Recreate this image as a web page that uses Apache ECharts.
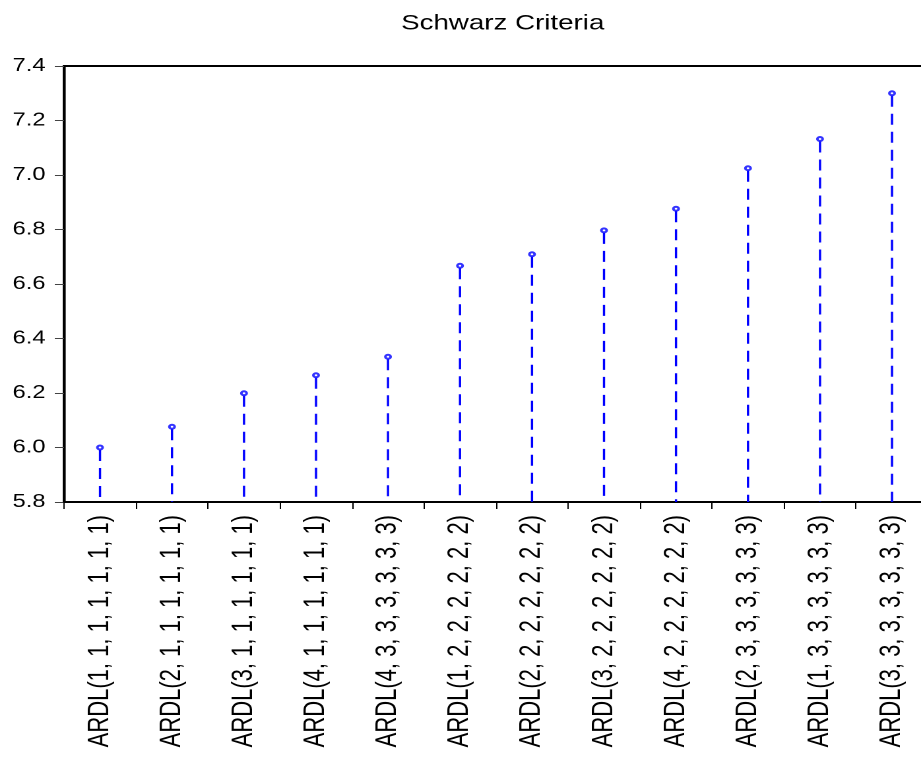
<!DOCTYPE html>
<html>
<head>
<meta charset="utf-8">
<script src="https://cdn.jsdelivr.net/npm/echarts@6/dist/echarts.min.js"></script>
<style>
  html, body { margin: 0; padding: 0; background: #fff; overflow: hidden; }
  #wrap { width: 921px; height: 760px; overflow: hidden; }
  /* 原图横向拉伸约 1.32 倍，这里按同样比例拉伸 */
  #chart { width: 698px; height: 760px; transform: scaleX(1.3195); transform-origin: 0 0; }
</style>
</head>
<body>
<div id="wrap"><div id="chart"></div></div>
<script>
// 模型名称
const models = [
  'ARDL(1, 1, 1, 1, 1, 1, 1)',
  'ARDL(2, 1, 1, 1, 1, 1, 1)',
  'ARDL(3, 1, 1, 1, 1, 1, 1)',
  'ARDL(4, 1, 1, 1, 1, 1, 1)',
  'ARDL(4, 3, 3, 3, 3, 3, 3)',
  'ARDL(1, 2, 2, 2, 2, 2, 2)',
  'ARDL(2, 2, 2, 2, 2, 2, 2)',
  'ARDL(3, 2, 2, 2, 2, 2, 2)',
  'ARDL(4, 2, 2, 2, 2, 2, 2)',
  'ARDL(2, 3, 3, 3, 3, 3, 3)',
  'ARDL(1, 3, 3, 3, 3, 3, 3)',
  'ARDL(3, 3, 3, 3, 3, 3, 3)'
]

// Schwarz 值
const schwarz = [6.000, 6.076, 6.199, 6.265, 6.333, 6.667, 6.709, 6.797, 6.876, 7.025, 7.132, 7.300]

const yMin = 5.8
const yMax = 7.4
const yStep = 0.2

const chart = echarts.init(document.getElementById('chart'), null, { devicePixelRatio: 2 })

const option = {
  animation: false,
  title: {
    text: 'Schwarz Criteria',
    left: 376,
    top: 8,
    textAlign: 'center',
    textStyle: {
      fontFamily: 'Liberation Sans',
      fontSize: 21,
      fontWeight: 'normal',
      color: '#000'
    }
  },
  grid: {
    left: 48.5,
    top: 66,
    bottom: 258,
    width: 654.8,
    show: true,
    borderColor: '#000',
    borderWidth: 2,
    containLabel: false,
    outerBoundsMode: 'none'
  },
  xAxis: {
    type: 'category',
    data: models,
    axisLine: { lineStyle: { color: '#000', width: 2 } },
    axisTick: { show: true, length: 7, inside: false, lineStyle: { color: '#000', width: 1 } },
    axisLabel: {
      rotate: 90,
      margin: 13,
      interval: 0,
      fontFamily: 'Liberation Sans',
      fontSize: 22,
      color: '#000'
    },
    splitLine: { show: false }
  },
  yAxis: {
    type: 'value',
    min: yMin,
    max: yMax,
    interval: yStep,
    axisLine: { show: true, lineStyle: { color: '#000', width: 1.6 } },
    axisTick: { show: true, length: 7, lineStyle: { color: '#444', width: 1 } },
    axisLabel: {
      margin: 14,
      fontFamily: 'Liberation Sans',
      fontSize: 18,
      color: '#000',
      formatter: v => v.toFixed(1)
    },
    splitLine: { show: false }
  },
  series: [
    {
      // 虚线针
      type: 'custom',
      data: schwarz.map((v, i) => [i, v]),
      renderItem: (params, api) => {
        const top = api.coord([api.value(0), api.value(1)])
        const base = api.coord([api.value(0), yMin])
        return {
          type: 'line',
          shape: { x1: top[0], y1: top[1] + 2.5, x2: base[0], y2: base[1] },
          style: {
            stroke: '#0000ff',
            lineWidth: 1.7,
            lineDash: [11, 7]
          }
        }
      },
      z: 2
    },
    {
      type: 'scatter',
      data: schwarz.map((v, i) => [i, v]),
      symbol: 'emptyCircle',
      symbolSize: 4,
      itemStyle: { color: '#0000ff', borderWidth: 1.1 },
      z: 3
    }
  ]
}

chart.setOption(option)
</script>
</body>
</html>
